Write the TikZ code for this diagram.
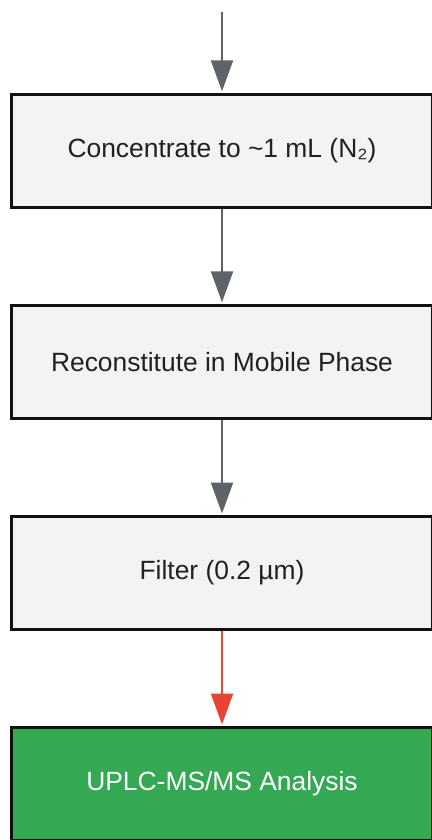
\documentclass[tikz,border=0pt]{standalone}
\usepackage{fontspec}
\setmainfont{Liberation Sans}
\usetikzlibrary{arrows.meta}
\definecolor{boxfill}{HTML}{F1F3F4}
\definecolor{boxline}{HTML}{111111}
\definecolor{txt}{HTML}{202124}
\definecolor{arrgray}{HTML}{5F6368}
\definecolor{arrred}{HTML}{EA4335}
\definecolor{okgreen}{HTML}{34A853}
\tikzset{
  stepbox/.style={draw=boxline, line width=3pt, fill=boxfill, text=txt,
    minimum width=421pt, minimum height=113pt, inner sep=0pt,
    font=\fontsize{26.4}{30}\selectfont},
  finalbox/.style={stepbox, fill=okgreen, text=white},
  flow/.style={draw=arrgray, line width=2.2pt,
    -{Triangle[length=31pt,width=22pt]}, shorten >=1.5pt},
  flowred/.style={flow, draw=arrred}
}
\begin{document}
\begin{tikzpicture}[x=1pt,y=-1pt]
\useasboundingbox (0,0) rectangle (431,840);
\coordinate (start) at (222,12);
\node[stepbox] (b1) at (222,150.8) {Concentrate to \textasciitilde 1 mL (N₂)};
\node[stepbox] (b2) at (222,361.8) {Reconstitute in Mobile Phase};
\node[stepbox] (b3) at (222,573) {Filter (0.2 µm)};
\node[finalbox] (b4) at (222,784) {UPLC-MS/MS Analysis};
\draw[flow] (start) -- (b1.north);
\draw[flow] (b1.south) -- (b2.north);
\draw[flow] (b2.south) -- (b3.north);
\draw[flowred] (b3.south) -- (b4.north);
\end{tikzpicture}
\end{document}
